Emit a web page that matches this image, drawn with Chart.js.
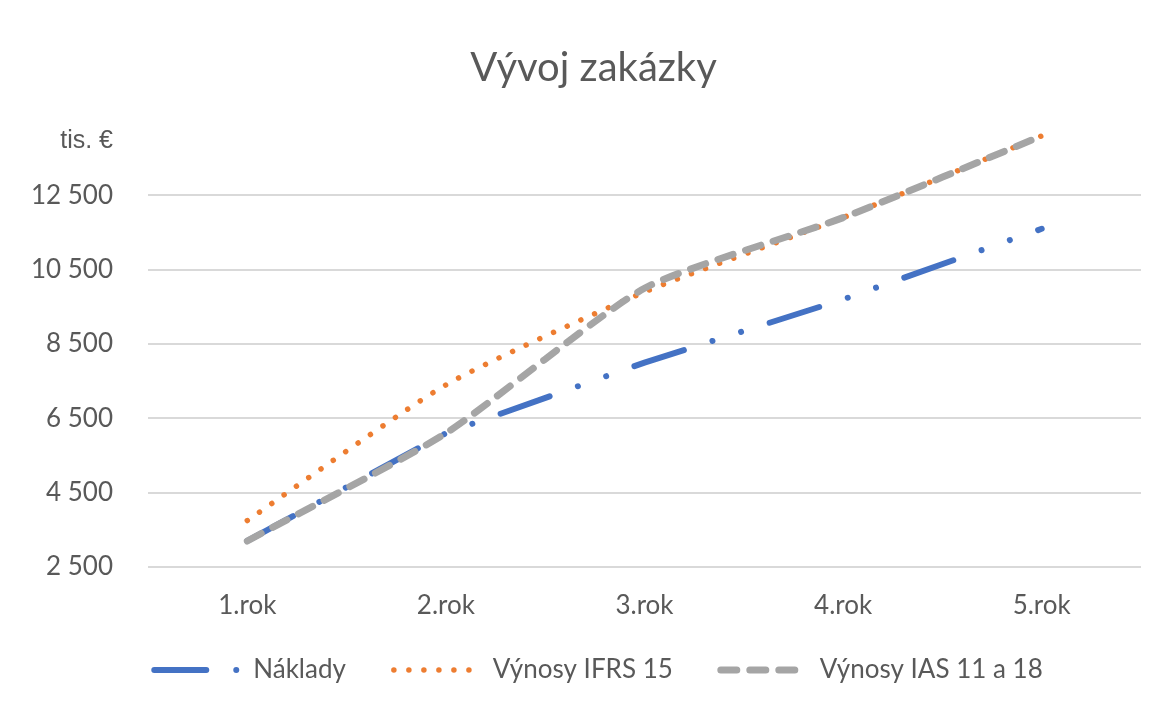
<!DOCTYPE html>
<html>
<head>
<meta charset="utf-8">
<script src="https://cdn.jsdelivr.net/npm/chart.js@4.4.0/dist/chart.umd.min.js"></script>
<style>
  html, body { margin: 0; padding: 0; background: #fff; }
  #wrap { width: 1169px; height: 707px; }
</style>
</head>
<body>
<div id="wrap"><canvas id="c" width="1169" height="707"></canvas></div>
<script>
const categories = ['1.rok', '2.rok', '3.rok', '4.rok', '5.rok'];
const naklady = [3200, 6100, 8000, 9700, 11600];
const vynosyIFRS15 = [3750, 7400, 9900, 11900, 14100];
const vynosyIAS = [3200, 6100, 10000, 11900, 14100];
const yTickValues = [2500, 4500, 6500, 8500, 10500, 12500];
const yTickLabels = ['2 500', '4 500', '6 500', '8 500', '10 500', '12 500'];
const seriesNames = ['Náklady', 'Výnosy IFRS 15', 'Výnosy IAS 11 a 18'];
const unitLabel = 'tis. €';
const chartTitle = 'Vývoj zakázky';

const textColor = '#595959';
const fontFamily = 'Lato, "Open Sans", sans-serif';

const unitPlugin = {
  id: 'unitLabel',
  afterLayout(chart) {
    // shift legend and title to match reference placement
    const lg = chart.legend;
    if (lg) {
      lg.left += 28; lg.right += 28;
      lg.top -= 14; lg.bottom -= 14;
    }
    const tb = chart.titleBlock;
    if (tb) {
      tb.left += 23; tb.right += 23;
    }
  },
  afterDraw(chart) {
    const ctx = chart.ctx;
    const y = chart.scales.y;
    ctx.save();
    ctx.font = '25px "Liberation Sans", Arial, sans-serif';
    ctx.fillStyle = textColor;
    ctx.textAlign = 'right';
    ctx.textBaseline = 'middle';
    ctx.fillText(unitLabel, 113, y.getPixelForValue(14500) + 20);
    ctx.restore();
  }
};

new Chart(document.getElementById('c'), {
  type: 'line',
  data: {
    labels: categories,
    datasets: [
      {
        label: seriesNames[0],
        data: naklady,
        borderColor: '#4472C4',
        backgroundColor: '#4472C4',
        borderWidth: 6,
        borderDash: [52, 30, 0.01, 30, 0.01, 30],
        borderCapStyle: 'round',
        pointRadius: 0,
        tension: 0,
        order: 3
      },
      {
        label: seriesNames[1],
        data: vynosyIFRS15,
        borderColor: '#ED7D31',
        backgroundColor: '#ED7D31',
        borderWidth: 5.5,
        borderDash: [0.01, 15],
        borderCapStyle: 'round',
        pointRadius: 0,
        tension: 0.2,
        order: 2
      },
      {
        label: seriesNames[2],
        data: vynosyIAS,
        borderColor: '#A5A5A5',
        backgroundColor: '#A5A5A5',
        borderWidth: 7,
        borderDash: [16, 13],
        borderCapStyle: 'round',
        pointRadius: 0,
        tension: 0.2,
        order: 1
      }
    ]
  },
  options: {
    responsive: false,
    animation: false,
    layout: { padding: { left: 0, right: 28, top: 0, bottom: 0 } },
    plugins: {
      title: {
        display: true,
        text: chartTitle,
        color: textColor,
        font: { family: fontFamily, size: 40, weight: 'normal' },
        padding: { top: 44, bottom: 29 }
      },
      legend: {
        position: 'bottom',
        labels: {
          usePointStyle: true,
          pointStyle: 'line',
          pointStyleWidth: 86,
          boxHeight: 26,
          padding: 48,
          color: textColor,
          font: { family: fontFamily, size: 26 },
          sort: (a, b) => a.datasetIndex - b.datasetIndex,
          generateLabels(chart) {
            const items = Chart.defaults.plugins.legend.labels.generateLabels(chart);
            items.forEach(it => {
              const ds = chart.data.datasets[it.datasetIndex];
              it.lineDash = ds.borderDash;
              it.lineWidth = ds.borderWidth;
              it.lineCap = ds.borderCapStyle;
              it.strokeStyle = ds.borderColor;
            });
            return items;
          }
        }
      },
      tooltip: { enabled: false }
    },
    scales: {
      x: {
        offset: true,
        grid: { display: false },
        border: { display: false },
        ticks: {
          color: textColor,
          padding: 15,
          font: { family: fontFamily, size: 26 }
        },
        afterFit(scale) { scale.height = 56; }
      },
      y: {
        min: 2500,
        max: 14500,
        afterBuildTicks(scale) {
          scale.ticks = yTickValues.concat([14500]).map(v => ({ value: v }));
        },
        grid: {
          drawTicks: false,
          color: (c) => (c.tick && c.tick.value === 14500) ? 'rgba(0,0,0,0)' : '#D9D9D9',
          lineWidth: 2
        },
        border: { display: false },
        ticks: {
          color: textColor,
          padding: 35,
          font: { family: fontFamily, size: 26 },
          callback: (v) => {
            const i = yTickValues.indexOf(v);
            return i >= 0 ? yTickLabels[i] : '';
          }
        },
        afterFit(scale) { scale.width = 148; }
      }
    }
  },
  plugins: [unitPlugin]
});
</script>
</body>
</html>
